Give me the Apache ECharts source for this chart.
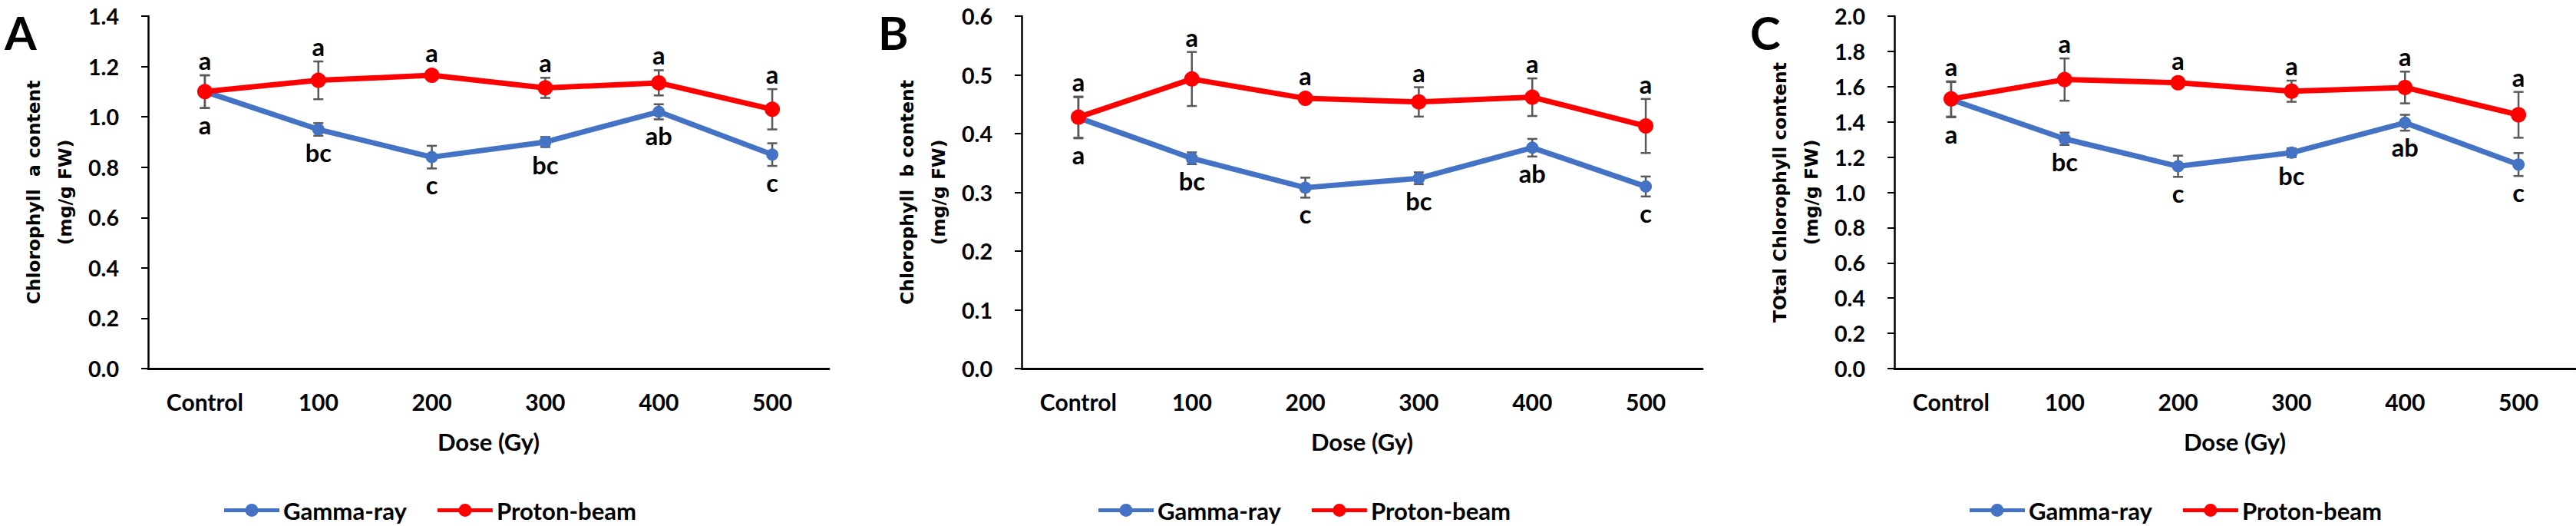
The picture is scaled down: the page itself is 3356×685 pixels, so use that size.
<!DOCTYPE html>
<html>
<head>
<meta charset="UTF-8">
<script src="https://cdn.jsdelivr.net/npm/echarts@6/dist/echarts.min.js"></script>
<style>
html, body { margin: 0; padding: 0; background: #fff; }
#main { width: 3356px; height: 685px; }
</style>
</head>
<body>
<div id="main"></div>
<script>
// data
var categories = ['Control', '100', '200', '300', '400', '500'];
var seriesNames = ['Gamma-ray', 'Proton-beam'];

// A: chlorophyll a
var gammaA = [1.10, 0.95, 0.84, 0.90, 1.02, 0.85];
var gammaAErr = [0.065, 0.025, 0.045, 0.02, 0.03, 0.045];
var protonA = [1.10, 1.145, 1.165, 1.115, 1.135, 1.03];
var protonAErr = [0.065, 0.075, 0.01, 0.04, 0.05, 0.08];
var yRangeA = [0, 1.4, 0.2];

// B: chlorophyll b
var gammaB = [0.427, 0.358, 0.308, 0.324, 0.376, 0.310];
var gammaBErr = [0.035, 0.01, 0.017, 0.01, 0.015, 0.017];
var protonB = [0.428, 0.493, 0.460, 0.454, 0.462, 0.413];
var protonBErr = [0.035, 0.046, 0.005, 0.025, 0.032, 0.046];
var yRangeB = [0, 0.6, 0.1];

// C: total chlorophyll
var gammaC = [1.526, 1.304, 1.148, 1.225, 1.395, 1.158];
var gammaCErr = [0.10, 0.035, 0.06, 0.025, 0.045, 0.065];
var protonC = [1.53, 1.64, 1.622, 1.574, 1.595, 1.44];
var protonCErr = [0.10, 0.12, 0.01, 0.06, 0.09, 0.13];
var yRangeC = [0, 2.0, 0.2];

// significance letters
var protonLetters = ['a', 'a', 'a', 'a', 'a', 'a'];
var gammaLetters = ['a', 'bc', 'c', 'bc', 'ab', 'c'];

var panelLetters = ['A', 'B', 'C'];
var yTitles = [
    'Chlorophyll  a content\n(mg/g FW)',
    'Chlorophyll  b content\n(mg/g FW)',
    'TOtal Chlorophyll content\n(mg/g FW)'
];
var xTitle = 'Dose (Gy)';

// layout
var NARROW = "Lato, 'Liberation Sans', sans-serif";
var WIDE = "'DejaVu Sans', Verdana, sans-serif";
var BLUE = '#4472C4', RED = '#FF0000', ERR = '#595959';
var gridLeft = [193, 1331, 2468];
var legendLeft = [287, 1426, 2561];
var letterLeft = [6, 1144, 2280];
var AXIS_Y = 480;

// pick font sizes so the texts get the widths they have in the figure
var measureCtx = document.createElement('canvas').getContext('2d');
function fitFont(text, family, target) {
    measureCtx.font = 'bold 100px ' + family;
    return Math.round(1000 * target / measureCtx.measureText(text).width) / 10;
}
var xLabelSize = fitFont('Control', NARROW, 100);
var yLabelSize = fitFont('1.4', NARROW, 40);
var legendSize = fitFont('Gamma-ray', NARROW, 161);
var xNameSize = fitFont('Dose (Gy)', NARROW, 133);
var letterSize = fitFont('ab', NARROW, 35);
var yNameSize = fitFont('Chlorophyll  a content', WIDE, 292);

// legend icon: thick line with a dot, 72 x 17
var legendIcon = 'path://M0,6 L72,6 L72,11 L0,11 Z M27.5,8.5 A8.5,8.5 0 1 1 44.5,8.5 A8.5,8.5 0 1 1 27.5,8.5 Z';

var panels = [
    { gamma: gammaA, gErr: gammaAErr, proton: protonA, pErr: protonAErr, range: yRangeA },
    { gamma: gammaB, gErr: gammaBErr, proton: protonB, pErr: protonBErr, range: yRangeB },
    { gamma: gammaC, gErr: gammaCErr, proton: protonC, pErr: protonCErr, range: yRangeC }
];

function errSeries(k, vals, errs, letters, below) {
    return {
        type: 'custom',
        xAxisIndex: k,
        yAxisIndex: k,
        z: 1,
        clip: false,
        silent: true,
        animation: false,
        data: vals.map(function (v, i) { return [i, v, errs[i]]; }),
        renderItem: function (params, api) {
            var i = api.value(0), v = api.value(1), e = api.value(2);
            var pt = api.coord([i, v]);
            var top = api.coord([i, v + e]);
            var bot = api.coord([i, v - e]);
            var x = pt[0], hw = 6.5;
            var ls = { stroke: ERR, lineWidth: 2.5 };
            var ty, va;
            if (below) {
                ty = Math.max(bot[1], pt[1] + 8) + 5;
                va = 'top';
            } else {
                ty = Math.min(top[1], pt[1] - 10) - 3;
                va = 'bottom';
            }
            return {
                type: 'group',
                children: [
                    { type: 'line', shape: { x1: x, y1: top[1], x2: x, y2: bot[1] }, style: ls },
                    { type: 'line', shape: { x1: x - hw, y1: top[1], x2: x + hw, y2: top[1] }, style: ls },
                    { type: 'line', shape: { x1: x - hw, y1: bot[1], x2: x + hw, y2: bot[1] }, style: ls },
                    {
                        type: 'text',
                        style: {
                            text: letters[i], x: x, y: ty, align: 'center', verticalAlign: va,
                            fill: '#000', font: 'bold ' + letterSize + 'px ' + NARROW
                        }
                    }
                ]
            };
        }
    };
}

var grids = [], xAxes = [], yAxes = [], legends = [], series = [], graphics = [];

panels.forEach(function (p, k) {
    grids.push({ left: gridLeft[k], top: 21, width: 887, height: AXIS_Y - 21 });
    xAxes.push({
        type: 'category',
        gridIndex: k,
        data: categories,
        name: xTitle,
        nameLocation: 'middle',
        nameGap: 575 - AXIS_Y - xNameSize / 2,
        nameTextStyle: { color: '#000', fontFamily: NARROW, fontWeight: 'bold', fontSize: xNameSize },
        axisLine: { lineStyle: { color: '#000', width: 3 } },
        axisTick: { show: false },
        axisLabel: {
            interval: 0, color: '#000', fontFamily: NARROW, fontWeight: 'bold',
            fontSize: xLabelSize, margin: 523 - AXIS_Y - xLabelSize / 2
        },
        splitLine: { show: false }
    });
    yAxes.push({
        type: 'value',
        gridIndex: k,
        min: p.range[0],
        max: p.range[1],
        interval: p.range[2],
        name: yTitles[k],
        nameLocation: 'middle',
        nameRotate: 90,
        nameGap: 88,
        nameTextStyle: { color: '#000', fontFamily: WIDE, fontWeight: 'bold', fontSize: yNameSize, lineHeight: 41, align: 'center' },
        axisLine: { show: true, lineStyle: { color: '#000', width: 2.5 } },
        axisTick: { show: true, length: 9, lineStyle: { color: '#000', width: 2 } },
        axisLabel: {
            color: '#000', fontFamily: NARROW, fontWeight: 'bold', fontSize: yLabelSize, margin: 38,
            formatter: function (v) { return v.toFixed(1); }
        },
        splitLine: { show: false }
    });
    legends.push({
        data: seriesNames.map(function (n) { return { name: n, icon: legendIcon }; }),
        left: legendLeft[k],
        top: 644,
        itemWidth: 72,
        itemHeight: 17,
        itemGap: 40,
        textStyle: { color: '#000', fontFamily: NARROW, fontWeight: 'bold', fontSize: legendSize }
    });
    series.push(errSeries(k, p.gamma, p.gErr, gammaLetters, true));
    series.push(errSeries(k, p.proton, p.pErr, protonLetters, false));
    series.push({
        name: seriesNames[0], type: 'line', xAxisIndex: k, yAxisIndex: k, z: 2,
        data: p.gamma, symbol: 'circle', symbolSize: 16,
        lineStyle: { color: BLUE, width: 7 }, itemStyle: { color: BLUE }, animation: false
    });
    series.push({
        name: seriesNames[1], type: 'line', xAxisIndex: k, yAxisIndex: k, z: 3,
        data: p.proton, symbol: 'circle', symbolSize: 20,
        lineStyle: { color: RED, width: 7 }, itemStyle: { color: RED }, animation: false
    });
    graphics.push({
        type: 'text', left: letterLeft[k], top: 12,
        style: { text: panelLetters[k], fill: '#000', font: 'bold 60px ' + NARROW }
    });
});

var myChart = echarts.init(document.getElementById('main'), null, { renderer: 'svg' });
myChart.setOption({
    backgroundColor: '#fff',
    animation: false,
    grid: grids,
    xAxis: xAxes,
    yAxis: yAxes,
    legend: legends,
    series: series,
    graphic: graphics
});
</script>
</body>
</html>
